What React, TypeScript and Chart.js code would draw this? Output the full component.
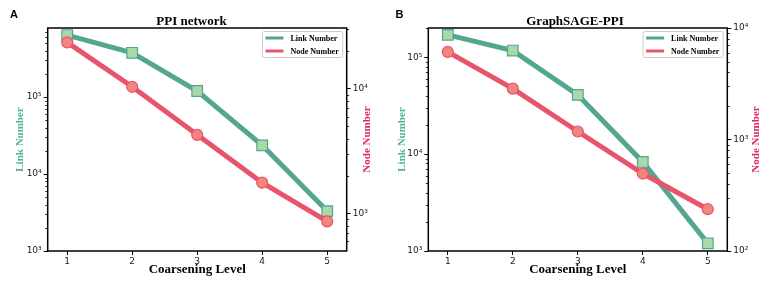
import React, { useEffect, useRef } from "react";
import { Chart, registerables } from "chart.js";
Chart.register(...registerables);

// ---- data ----
const levels = [1, 2, 3, 4, 5];
const xTickValues = [1, 2, 3, 4, 5];
const seriesLabels = ["Link Number", "Node Number"];
const ppiLinks = [640000, 376000, 120000, 23600, 3300];
const ppiNodes = [23600, 10400, 4280, 1770, 866];
const sageLinks = [170000, 117000, 40800, 8300, 1200];
const sageNodes = [6100, 2860, 1180, 495, 237];
const titles = ["PPI network", "GraphSAGE-PPI"];
const panelLetters = ["A", "B"];
const xTitle = "Coarsening Level";

const SERIF = "'Liberation Serif', 'Times New Roman', serif";
const SANS = "'DejaVu Sans', sans-serif";
const LINK_LINE = "#54a68f";
const LINK_FILL = "#a9d8a9";
const NODE_LINE = "#e8546b";
const NODE_FILL = "#f2857c";
const LINK_TITLE = "#4fb39b";
const NODE_TITLE = "#dc2b5c";

const SUP: Record<string, string> = { "0": "⁰", "1": "¹", "2": "²", "3": "³", "4": "⁴", "5": "⁵", "6": "⁶", "7": "⁷", "8": "⁸", "9": "⁹" };

function isPow10(v: number) {
  const e = Math.log10(v);
  return Math.abs(e - Math.round(e)) < 1e-9;
}
function logTicks(min: number, max: number) {
  const out: { value: number; major: boolean }[] = [];
  const e0 = Math.floor(Math.log10(min));
  const e1 = Math.ceil(Math.log10(max));
  for (let e = e0; e <= e1; e++) {
    for (let m = 1; m <= 9; m++) {
      const v = m * Math.pow(10, e);
      if (v >= min * 0.999 && v <= max * 1.001) out.push({ value: v, major: m === 1 });
    }
  }
  return out;
}
function powLabel(v: number) {
  if (!isPow10(v)) return "";
  const e = String(Math.round(Math.log10(v)));
  return "10" + e.split("").map((c) => SUP[c]).join("");
}

type Spec = {
  width: number;
  title: string;
  letter: string;
  letterX: number;
  links: number[];
  nodes: number[];
  yMin: number;
  yMax: number;
  y1Min: number;
  y1Max: number;
  leftW: number;
  rightW: number;
  leftTitlePad: number;
  rightTitleX: number;
};

function makeConfig(s: Spec): any {
  const framePlugin = {
    id: "frameAndExtras",
    afterDatasetsDraw(chart: any) {
      const { ctx, chartArea: a } = chart;
      ctx.save();
      // frame
      ctx.strokeStyle = "#000";
      ctx.lineWidth = 1.5;
      ctx.strokeRect(a.left, a.top, a.right - a.left, a.bottom - a.top);
      // minor ticks
      ctx.lineWidth = 0.8;
      for (const id of ["y", "y1"]) {
        const sc = chart.scales[id];
        for (const t of sc.ticks) {
          if (t.major) continue;
          const py = Math.round(sc.getPixelForValue(t.value)) + 0.5;
          ctx.beginPath();
          if (id === "y") {
            ctx.moveTo(a.left, py);
            ctx.lineTo(a.left - 2.5, py);
          } else {
            ctx.moveTo(a.right, py);
            ctx.lineTo(a.right + 2.5, py);
          }
          ctx.stroke();
        }
      }
      // legend
      const font = "bold 8px " + SERIF;
      ctx.font = font;
      const tw = Math.max(...seriesLabels.map((l) => ctx.measureText(l).width));
      const w = 28 + tw + 4;
      const h = 26;
      const lx = a.right - 4 - w;
      const ly = a.top + 3.5;
      ctx.fillStyle = "rgba(255,255,255,0.85)";
      ctx.strokeStyle = "#cccccc";
      ctx.lineWidth = 1;
      ctx.beginPath();
      ctx.roundRect(lx, ly, w, h, 2);
      ctx.fill();
      ctx.stroke();
      const colors = [LINK_LINE, NODE_LINE];
      seriesLabels.forEach((lab, i) => {
        const yy = ly + 6.5 + i * 13;
        ctx.strokeStyle = colors[i];
        ctx.lineWidth = 3;
        ctx.beginPath();
        ctx.moveTo(lx + 3, yy);
        ctx.lineTo(lx + 21, yy);
        ctx.stroke();
        ctx.fillStyle = "#000";
        ctx.textBaseline = "middle";
        ctx.textAlign = "left";
        ctx.fillText(lab, lx + 28, yy + 0.5);
      });
      // right axis title (reads bottom to top)
      ctx.font = "bold 11px " + SERIF;
      ctx.fillStyle = NODE_TITLE;
      ctx.translate(s.rightTitleX, (a.top + a.bottom) / 2);
      ctx.rotate(-Math.PI / 2);
      ctx.textAlign = "center";
      ctx.textBaseline = "middle";
      ctx.fillText(seriesLabels[1], 0, 0);
      ctx.restore();
      // panel letter
      ctx.save();
      ctx.font = "bold 11px 'Liberation Sans', Arial, sans-serif";
      ctx.fillStyle = "#000";
      ctx.textBaseline = "alphabetic";
      ctx.textAlign = "left";
      ctx.fillText(s.letter, s.letterX, 18.3);
      ctx.restore();
    },
  };

  const tickFont = { family: SANS, size: 9 };
  return {
    type: "line",
    data: {
      datasets: [
        {
          label: seriesLabels[0],
          data: levels.map((x, i) => ({ x, y: s.links[i] })),
          yAxisID: "y",
          borderColor: LINK_LINE,
          borderWidth: 5,
          pointStyle: "rect",
          pointRadius: 7.5,
          pointBackgroundColor: LINK_FILL,
          pointBorderColor: LINK_LINE,
          pointBorderWidth: 1.2,
          tension: 0,
          order: 1,
          clip: false,
        },
        {
          label: seriesLabels[1],
          data: levels.map((x, i) => ({ x, y: s.nodes[i] })),
          yAxisID: "y1",
          borderColor: NODE_LINE,
          borderWidth: 5,
          pointStyle: "circle",
          pointRadius: 5.5,
          pointBackgroundColor: NODE_FILL,
          pointBorderColor: NODE_LINE,
          pointBorderWidth: 1.2,
          tension: 0,
          order: 0,
          clip: false,
        },
      ],
    },
    options: {
      responsive: false,
      animation: false,
      devicePixelRatio: 1,
      layout: { padding: 0 },
      events: [],
      plugins: {
        legend: { display: false },
        tooltip: { enabled: false },
        title: {
          display: true,
          text: s.title,
          color: "#000",
          font: { family: SERIF, size: 13, weight: "bold", lineHeight: 1 },
          padding: { top: 15, bottom: 0 },
        },
      },
      scales: {
        x: {
          type: "linear",
          min: 0.7,
          max: 5.3,
          bounds: "data",
          afterBuildTicks: (sc: any) => {
            sc.ticks = xTickValues.map((v) => ({ value: v }));
          },
          afterFit: (sc: any) => {
            sc.height = 35;
          },
          border: { display: false },
          grid: { drawOnChartArea: false, drawTicks: true, tickLength: 4, tickColor: "#000", tickWidth: 1 },
          ticks: { font: tickFont, color: "#1a1a1a", padding: 1, autoSkip: false, maxRotation: 0, callback: (v: any) => String(v) },
          title: {
            display: true,
            text: xTitle,
            color: "#000",
            font: { family: SERIF, size: 13, weight: "bold", lineHeight: 1.2 },
            padding: { top: 0, bottom: 9 },
          },
        },
        y: {
          type: "logarithmic",
          position: "left",
          min: s.yMin,
          max: s.yMax,
          bounds: "data",
          afterBuildTicks: (sc: any) => {
            sc.ticks = logTicks(s.yMin, s.yMax);
          },
          afterFit: (sc: any) => {
            sc.width = s.leftW;
          },
          border: { display: false },
          grid: {
            drawOnChartArea: false,
            drawTicks: true,
            tickLength: 4,
            tickWidth: 1,
            tickColor: (c: any) => (c.tick && c.tick.major ? "#000" : "rgba(0,0,0,0)"),
          },
          ticks: { font: tickFont, color: "#1a1a1a", padding: 2, autoSkip: false, callback: (v: any) => powLabel(Number(v)) },
          title: {
            display: true,
            text: seriesLabels[0],
            color: LINK_TITLE,
            font: { family: SERIF, size: 11, weight: "bold", lineHeight: 1.2 },
            padding: { top: s.leftTitlePad, bottom: 0 },
          },
        },
        y1: {
          type: "logarithmic",
          position: "right",
          min: s.y1Min,
          max: s.y1Max,
          bounds: "data",
          afterBuildTicks: (sc: any) => {
            sc.ticks = logTicks(s.y1Min, s.y1Max);
          },
          afterFit: (sc: any) => {
            sc.width = s.rightW;
          },
          border: { display: false },
          grid: {
            drawOnChartArea: false,
            drawTicks: true,
            tickLength: 4,
            tickWidth: 1,
            tickColor: (c: any) => (c.tick && c.tick.major ? "#000" : "rgba(0,0,0,0)"),
          },
          ticks: { font: tickFont, color: "#1a1a1a", padding: 2, autoSkip: false, callback: (v: any) => powLabel(Number(v)) },
          title: { display: false },
        },
      },
    },
    plugins: [framePlugin],
  };
}

const specs: Spec[] = [
  {
    width: 383,
    title: titles[0],
    letter: panelLetters[0],
    letterX: 10,
    links: ppiLinks,
    nodes: ppiNodes,
    yMin: 1000,
    yMax: 790000,
    y1Min: 501,
    y1Max: 30800,
    leftW: 47.7,
    rightW: 36.3,
    leftTitlePad: 14,
    rightTitleX: 366.7,
  },
  {
    width: 384,
    title: titles[1],
    letter: panelLetters[1],
    letterX: 12.5,
    links: sageLinks,
    nodes: sageNodes,
    yMin: 1000,
    yMax: 200000,
    y1Min: 100,
    y1Max: 10000,
    leftW: 45.3,
    rightW: 39.7,
    leftTitlePad: 12.7,
    rightTitleX: 373,
  },
];

function Panel({ spec, left }: { spec: Spec; left: number }) {
  const ref = useRef<HTMLCanvasElement | null>(null);
  useEffect(() => {
    if (!ref.current) return;
    const chart = new Chart(ref.current, makeConfig(spec));
    return () => chart.destroy();
  }, [spec]);
  return (
    <div style={{ position: "absolute", left, top: 0, width: spec.width, height: 286 }}>
      <canvas ref={ref} width={spec.width} height={286} style={{ width: spec.width, height: 286, display: "block" }} />
    </div>
  );
}

export default function App() {
  return (
    <div style={{ position: "fixed", left: 0, top: 0, width: 767, height: 286, background: "#fff", overflow: "hidden" }}>
      <Panel spec={specs[0]} left={0} />
      <Panel spec={specs[1]} left={383} />
    </div>
  );
}
